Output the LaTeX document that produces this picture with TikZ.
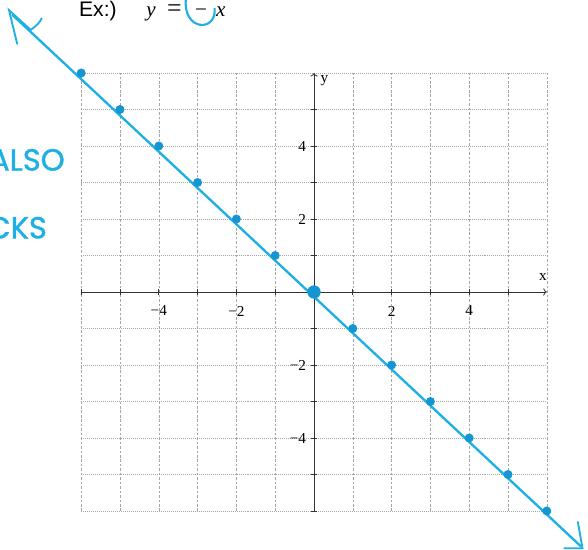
\documentclass[tikz,border=0pt]{standalone}
\usepackage{fontspec}
\setmainfont{Liberation Serif}
\newfontfamily\labelfont{Liberation Sans}
\newfontfamily\handfont[FakeBold=1.2]{Poppins}
\usepackage{xcolor}
\usetikzlibrary{arrows.meta}
\definecolor{pen}{RGB}{30,176,228}
\definecolor{pendot}{RGB}{22,150,208}
\newcommand{\mn}{−}

\begin{document}
\begin{tikzpicture}[x=1.164cm,y=1.095cm,font=\fontsize{13}{15}\selectfont]
  \useasboundingbox (-8.093,-7.068) rectangle (7.062,8.0);
  % grid
  \foreach \i in {-6,...,6} {
    \draw[gray!70,dash pattern=on 2.2pt off 1.6pt] (\i,-6) -- (\i,6);
    \draw[gray!70,dash pattern=on 0.8pt off 0.9pt] (-6,\i) -- (6,\i);
  }
  % axes
  \draw[black!80,line width=0.7pt,-{To[length=3pt]}] (-6,0) -- (6,0);
  \draw[black!80,line width=0.7pt,-{To[length=3pt]}] (0,-6) -- (0,6);
  \foreach \i in {-6,...,5} {
    \draw[black!80,line width=0.6pt] (\i,-0.07) -- (\i,0.07);
    \draw[black!80,line width=0.6pt] (-0.08,\i) -- (0.08,\i);
  }
  \node (xlab) at (5.9,0.42) {x};
  \node (ylab) at (0.27,5.8) {y};
  \node (xt1) at (-4,-0.52) {\mn4};
  \node (xt2) at (-2,-0.52) {\mn2};
  \node (xt3) at (2,-0.52) {2};
  \node (xt4) at (4,-0.52) {4};
  \node[anchor=east] (yt1) at (-0.1,4) {4};
  \node[anchor=east] (yt2) at (-0.1,2) {2};
  \node[anchor=east] (yt3) at (-0.1,-2) {\mn2};
  \node[anchor=east] (yt4) at (-0.1,-4) {\mn4};
  % the line y = -x
  \coordinate (tl) at (-7.78,7.6);
  \coordinate (br) at (6.88,-6.97);
  \draw[pen,line width=2pt] (tl) -- (br);
  \foreach \k in {-6,...,6}
    \fill[pendot] (\k,{-1*\k}) circle (0.135cm);
  \fill[pendot] (0,0) circle (0.2cm);
  % hand drawn arrow heads
  \draw[pen,line width=1.6pt,line cap=round] (-7.65,6.8) -- (-7.86,7.72)
    -- (-7.3,7.18) .. controls (-7.15,7.3) and (-7.05,7.4) .. (-7.02,7.5);
  \draw[pen,line width=1.6pt,line cap=round] (6.8,-6.3) -- (6.92,-7.02)
    -- (6.45,-7.02);
  % title
  \node[anchor=base,font=\labelfont\fontsize{18}{20}\selectfont] (ex) at (-5.57,7.55) {Ex:)};
  \node[anchor=base,font=\itshape\fontsize{18}{20}\selectfont] (yv) at (-4.2,7.55) {y};
  \node[anchor=base,font=\fontsize{22}{24}\selectfont] (eqs) at (-3.6,7.55) {=};
  \node[anchor=base,font=\fontsize{18}{20}\selectfont] (mns) at (-2.91,7.55) {\mn};
  \node[anchor=base,font=\itshape\fontsize{18}{20}\selectfont] (xv) at (-2.4,7.55) {x};
  \draw[pen,line width=1.8pt] (-3.3,8.05) .. controls (-3.4,7.15) and (-2.5,7.1) .. (-2.56,7.78);
  % notes
  \node[pen,anchor=east,inner sep=0pt,font=\handfont\fontsize{26}{28}\selectfont] (also) at (-6.42,3.62) {ALSO};
  \node[pen,anchor=east,inner sep=0pt,font=\handfont\fontsize{26}{28}\selectfont] (cks) at (-6.88,1.76) {CKS};
\end{tikzpicture}
\end{document}
